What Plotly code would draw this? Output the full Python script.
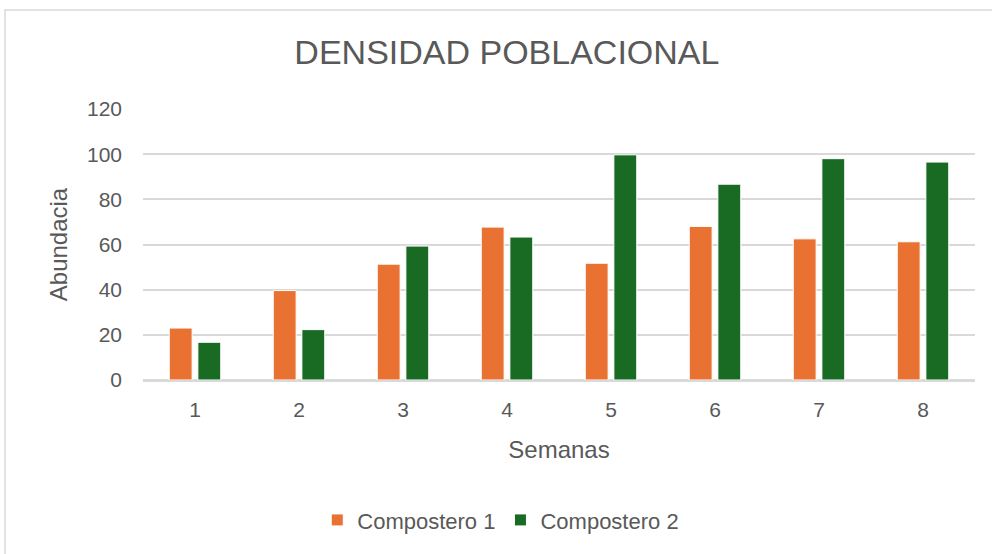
import plotly.graph_objects as go

semanas = ["1", "2", "3", "4", "5", "6", "7", "8"]
compostero_1 = [23.0, 39.6, 51.3, 67.7, 51.7, 68.0, 62.5, 61.2]
compostero_2 = [16.7, 22.3, 59.3, 63.3, 99.7, 86.7, 98.0, 96.5]

TEXT = "#595959"
GRID = "#d9d9d9"
FONT = "Liberation Sans, Arial, sans-serif"

fig = go.Figure()
fig.add_trace(go.Bar(x=semanas, y=compostero_1, name="Compostero 1",
                     marker=dict(color="#E97132", line=dict(color="white", width=1))))
fig.add_trace(go.Bar(x=semanas, y=compostero_2, name="Compostero 2",
                     marker=dict(color="#196B24", line=dict(color="white", width=1))))

fig.update_layout(
    width=992,
    height=554,
    paper_bgcolor="white",
    plot_bgcolor="white",
    font=dict(family=FONT, color=TEXT, size=21),
    margin=dict(t=109, b=174, l=143, r=17),
    bargap=0.45,
    bargroupgap=0.2,
    title=dict(text="DENSIDAD POBLACIONAL", x=0.511, xanchor="center",
               y=1 - 52 / 554, yanchor="middle", yref="container",
               font=dict(family=FONT, size=34, color=TEXT)),
    legend=dict(orientation="h", x=0.43, xanchor="center", y=-0.517, yanchor="middle",
                font=dict(size=22, color=TEXT), itemwidth=30),
    showlegend=True,
)
fig.update_xaxes(
    title=dict(text="Semanas", font=dict(size=24, color=TEXT), standoff=21),
    showgrid=False, showline=True, linecolor=GRID, linewidth=1.5,
    ticks="", tickfont=dict(size=21, color=TEXT), ticklabelstandoff=10,
)
fig.update_yaxes(
    title=dict(text="Abundacia", font=dict(size=24, color=TEXT), standoff=12),
    range=[0, 120], dtick=20, showgrid=True, gridcolor=GRID, gridwidth=1.5,
    zeroline=True, zerolinecolor=GRID, zerolinewidth=1.5,
    showline=False, ticks="", tickfont=dict(size=21, color=TEXT), ticklabelstandoff=20,
)
fig.add_shape(type="rect", xref="paper", yref="paper",
              x0=(5 - 143) / 832, x1=1.1, y0=-0.8, y1=(380 - 10) / 271,
              line=dict(color=GRID, width=1.5), layer="below")

fig.write_html("out.html", config={"displayModeBar": False},
               post_script="document.body.style.margin='0';")
